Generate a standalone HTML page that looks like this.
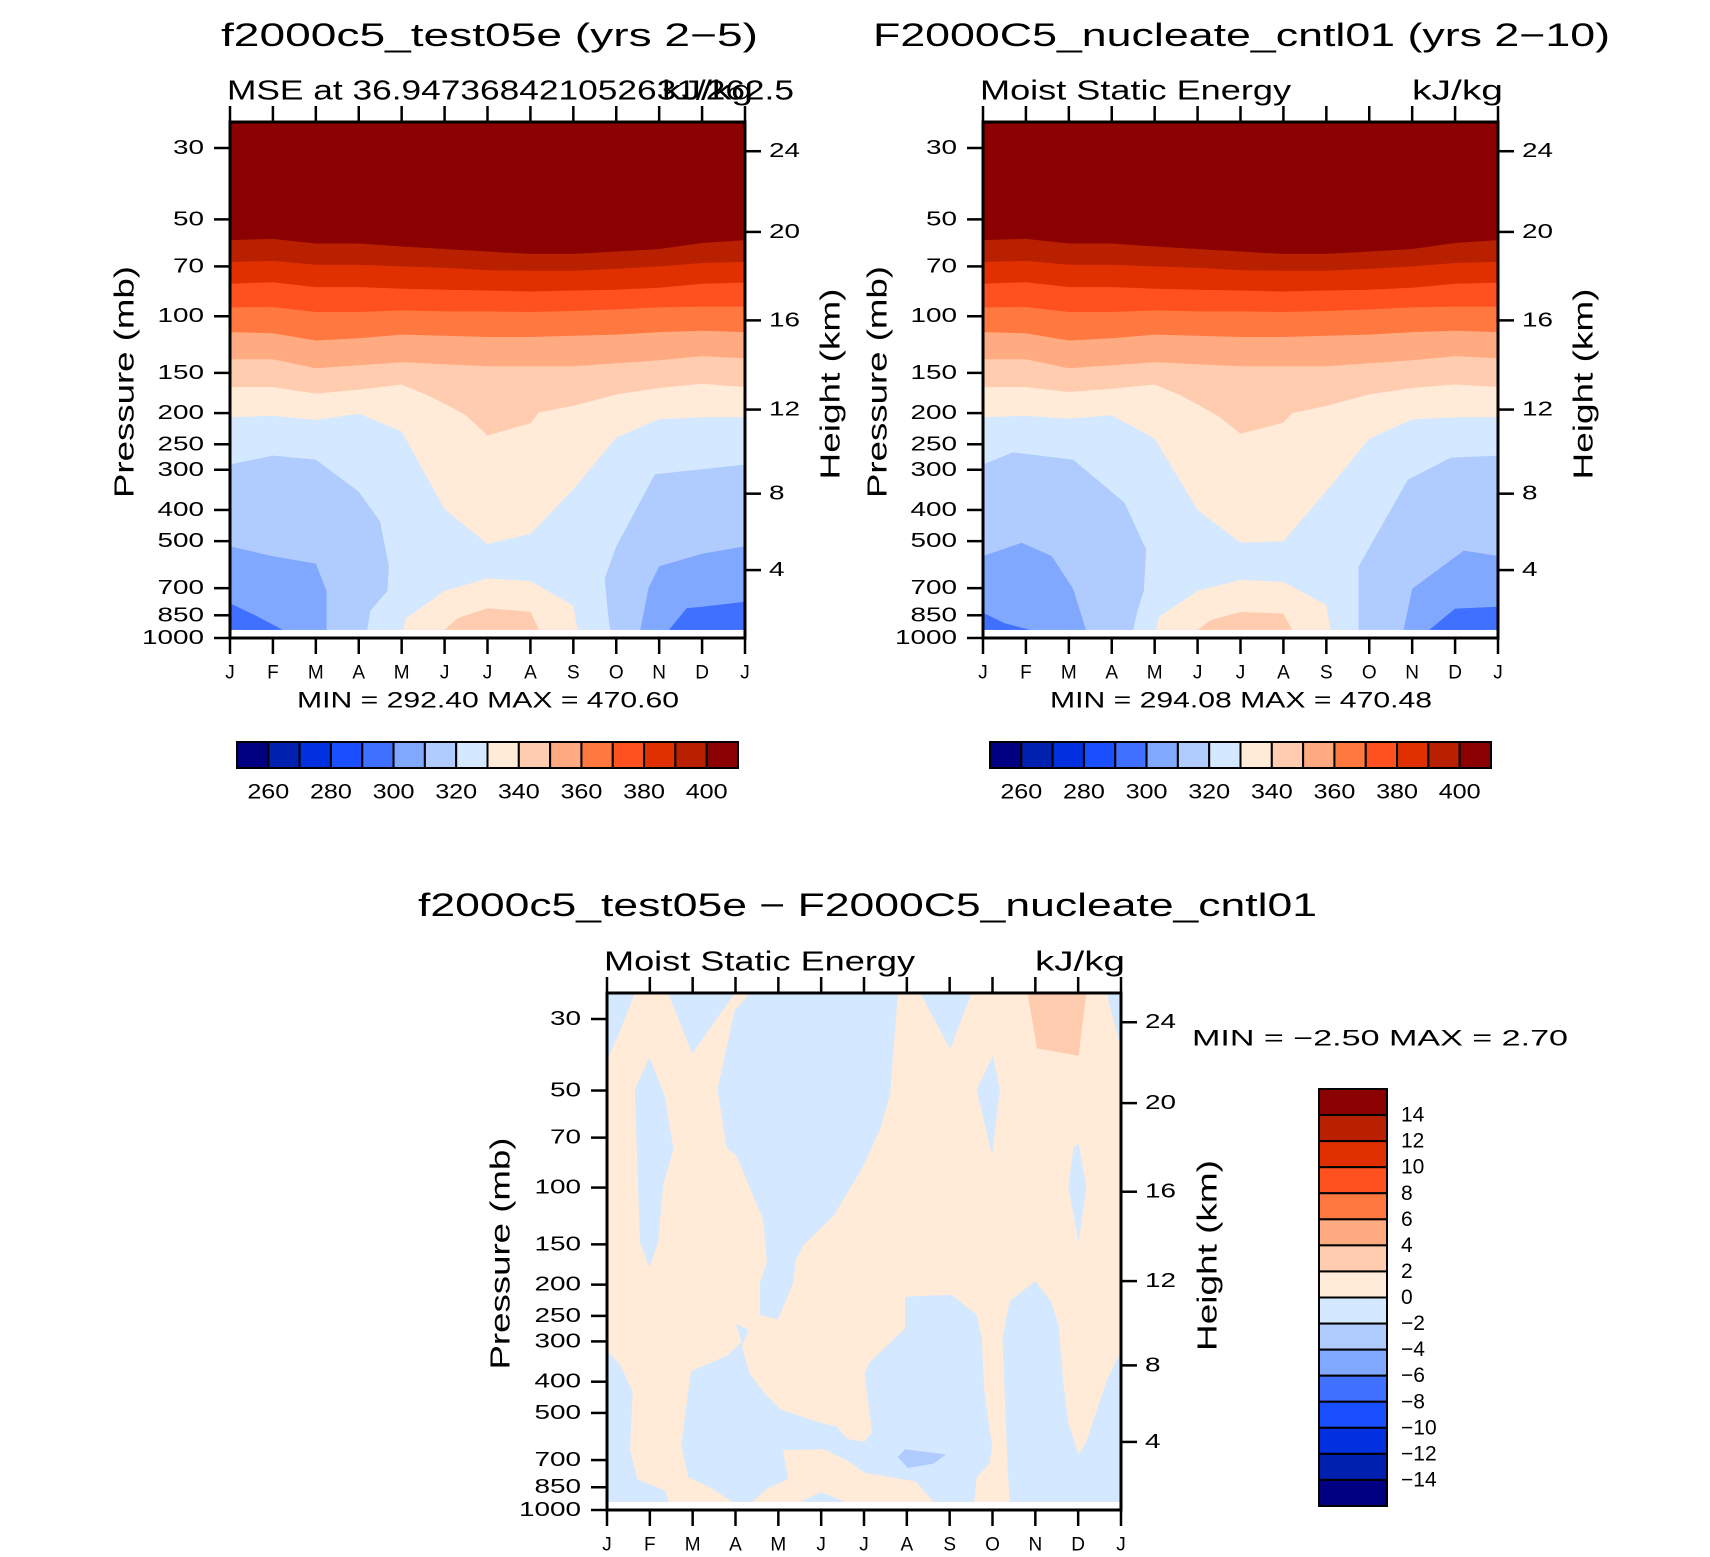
<!DOCTYPE html>
<html><head><meta charset="utf-8"><style>
html,body{margin:0;padding:0;background:#fff;}
svg{display:block;font-family:"Liberation Sans",sans-serif;}
</style></head><body>
<svg id="fig" width="1710" height="1557" viewBox="0 0 1710 1557" xmlns="http://www.w3.org/2000/svg"></svg>
<script>
// ---- shared axis data ----
const months = ["J","F","M","A","M","J","J","A","S","O","N","D","J"];
const pTicks = [30,50,70,100,150,200,250,300,400,500,700,850,1000];
const hTickLabels = [24,20,16,12,8,4];
const hTickPressures = [30.7,54.7,103,195,356,615];
const colors = ["#000080","#0020b0","#0030e0","#1a4fff","#4070ff","#80a8ff","#b0ccff","#d4e8ff","#ffebd8","#ffccb0","#ffaa80","#ff7840","#ff5020","#e03000","#b82000","#8b0000"];
const mseLabels = [260,280,300,320,340,360,380,400];
const diffLabels = [14,12,10,8,6,4,2,0,-2,-4,-6,-8,-10,-12,-14];
const dataBottom = 944;

// ---- panel 1 (test05e) contour boundaries: pressure at each month ----
const tlB1 = [58,57.5,59.4,59.4,60.7,61.8,62.9,64,64,62.9,61.8,59.2,58];
const tlB2 = [67.8,67.3,69.2,69.2,70,70.7,72,72.2,72.2,71.2,70,68.3,67.8];
const tlB3 = [79.2,78.4,81.2,81.2,82.1,82.7,83.2,83.8,83.2,82.7,81.5,79.2,78.6];
const tlB4 = [93.9,93.6,97,97,95.9,96.6,96.6,97,96.3,95.2,93.9,93.3,93.3];
const tlB5 = [112,113,119,117,114,115,116,116,115,114,112,111,112];
const tlB6 = [136,136,145,142,139,141,143,143,143,140,137,133,135];
const tlB7 = [[0,166],[1,166],[2,174],[3,169],[4,163],[4.6,176],[5,187],[5.5,203],[6,235],[7,215],[7.2,199],[8,190],[9,175],[10,167],[11,162],[12,166]];
const tlB8 = [[0,206],[1,204],[2,210],[3,201],[4,228],[5,398],[6,510],[7,475],[8,345],[9,238],[10,209],[11,206],[12,206]];
const tlMedL = [[0,289],[1,271],[2,279],[3,351],[3.5,435],[3.7,598],[3.67,714],[3.27,823],[3.2,944],[0,944]];
const tlMedR = [[8.86,944],[8.8,823],[8.73,653],[9,519],[9.9,310],[11,299],[12,289],[12,944]];
const tlBlueL = [[0,519],[1,557],[2,587],[2.25,714],[2.25,944],[0,944]];
const tlBlueR = [[9.56,944],[9.75,701],[10,598],[11,547],[12,519],[12,944]];
const tlCornerL = [[0,780],[0.6,852],[1.23,944],[0,944]];
const tlCornerR = [[10.23,944],[10.64,808],[11,800],[12,772],[12,944]];
const tlBump = [[4.03,944],[4.1,868],[5,714],[6,653],[7,665],[8,794],[8.1,944]];
const tlBump2 = [[5,944],[5.3,868],[6,808],[7,829],[7.2,944]];

// ---- panel 2 (cntl01) ----
const trB1 = [58,57.5,59.4,59.4,60.7,61.8,62.9,64,64,62.9,61.8,59.2,58];
const trB2 = [67.8,67.3,69.2,69.2,70,70.7,72,72.2,72.2,71.2,70,68.3,67.8];
const trB3 = [79.2,78.4,81.2,81.2,82.1,82.7,83.2,83.8,83.2,82.7,81.5,79.2,78.6];
const trB4 = [93.9,93.6,97,97,95.9,96.6,96.6,97,96.3,95.2,93.9,93.3,93.3];
const trB5 = [112,113,119,117,114,115,116,116,115,114,112,111,112];
const trB6 = [136,136,145,142,139,141,143,143,143,140,137,133,135];
const trB7 = [[0,166],[1,166],[2,172],[3,168],[4,163],[4.6,176],[5,188],[5.5,205],[6,232],[7,214],[7.2,200],[8,190],[9,175],[10,167],[11,163],[12,166]];
const trB8 = [[0,206],[1,204],[2,208],[3,203],[4,240],[5,400],[6,506],[7,500],[8,350],[9,240],[10,209],[11,206],[12,206]];
const trMedL = [[0,289],[0.7,265],[2.1,279],[3.3,380],[3.8,530],[3.75,714],[3.6,823],[3.5,944],[0,944]];
const trMedR = [[8.75,944],[8.75,600],[9.9,322],[10.9,275],[12,271],[12,944]];
const trBlueL = [[0,556],[0.9,506],[1.6,556],[2.1,703],[2.4,944],[0,944]];
const trBlueR = [[9.8,944],[10,703],[11.2,535],[12,556],[12,944]];
const trCornerL = [[0,835],[0.5,900],[1.1,944],[0,944]];
const trCornerR = [[10.4,944],[11,810],[12,800],[12,944]];
const trBump = [[4.03,944],[4.1,860],[5,714],[6,660],[7,670],[8,790],[8.1,944]];
const trBump2 = [[5,944],[5.3,880],[6,830],[7,840],[7.2,944]];

// ---- panel 3 (difference) ----
const dBlueTL = [[0,25],[0.65,25],[0.30,32.7],[0,40.3]];
const dBlueIsl1 = [[0.99,39.4],[1.35,52.1],[1.55,75.5],[1.31,99.2],[1.19,148],[0.99,177],[0.77,148],[0.65,49.7]];
const dBlueV1 = [[1.43,25],[2.98,25],[1.99,38.4]];
const dBlueMid = [[3.33,25],[6.79,25],[6.61,51.3],[6.37,66.4],[5.95,87.2],[5.30,122],[4.58,151],[4.40,169],[4.35,198],[3.99,256],[3.57,248],[3.57,198],[3.73,170],[3.65,126],[3.01,79.2],[2.80,75.5],[2.58,49.7],[2.98,28.3]];
const dBlueV2 = [[7.32,25],[8.51,25],[8.01,37.2]];
const dBlueIsl2 = [[9.01,39.0],[9.17,49.7],[8.99,79.2],[8.63,49.7]];
const dBlueTR = [[11.67,25],[12,25],[12,37.2]];
const dBlueIsl3 = [[11.01,73.1],[11.19,99.2],[11.01,148],[10.77,99.2],[10.89,75.5]];
const dBlueBL = [[0,321],[0.30,354],[0.60,429],[0.54,652],[0.71,803],[1.37,871],[1.43,944],[0,944]];
const dBlueCenter = [[2.92,944],[2.44,857],[1.90,791],[1.73,631],[1.96,371],[2.80,332],[3.15,301],[3.01,265],[3.31,276],[3.15,311],[3.33,377],[3.69,436],[4.05,488],[4.94,534],[5.36,551],[5.60,602],[6.01,615],[6.19,573],[6.01,377],[6.13,348],[6.96,273],[6.96,218],[8.04,215],[8.63,248],[8.75,292],[8.81,429],[8.99,631],[8.93,718],[8.63,791],[8.57,944],[7.62,944],[7.20,816],[6.01,766],[5.65,707],[5.06,648],[4.11,652],[4.23,803],[3.75,857],[3.39,944]];
const dBlueRight = [[9.40,944],[9.35,718],[9.23,292],[9.40,225],[10.0,195],[10.36,225],[10.54,265],[10.65,402],[10.77,537],[11.01,673],[11.19,615],[11.67,396],[12,321],[12,944]];
const dBlueBump = [[4.52,944],[5.0,879],[5.54,944]];
const dDarkPatch = [[6.79,684],[6.96,648],[7.92,673],[7.62,718],[7.02,741]];
const dOrangePatch = [[9.82,25],[11.19,25],[11.01,39.0],[10.04,37.0]];

const NS = "http://www.w3.org/2000/svg";
const svg = document.getElementById("fig");
function mk(tag, attrs, parent){const e=document.createElementNS(NS,tag);for(const k in attrs)e.setAttribute(k,attrs[k]);(parent||svg).appendChild(e);return e;}
function txt(s,x,y,size,anchor,parent,rot,len){const t=mk("text",{x:x,y:y,"font-size":size,"text-anchor":anchor||"middle","dominant-baseline":"central",fill:"#000"},parent);if(len){t.setAttribute("textLength",len);t.setAttribute("lengthAdjust","spacingAndGlyphs");}if(rot)t.setAttribute("transform","rotate(-90 "+x+" "+y+")");t.textContent=s;return t;}

function makePanel(g){
  const ppl = (g.yB - g.y30)/Math.log(1000/30);
  g.xs = m => g.x0 + m*(g.x1-g.x0)/12;
  g.ys = p => g.yB - ppl*Math.log(1000/p);
  const grp = mk("g",{});
  
  
  const cid = "clip-"+g.name;
  const cp = mk("clipPath",{id:cid},grp);
  mk("rect",{x:g.x0,y:g.yT,width:g.x1-g.x0,height:g.yB-g.yT},cp);
  g.fill = mk("g",{"clip-path":"url(#"+cid+")"},grp);
  g.grp = grp;
  return g;
}
function poly(g, pts, color, name){
  const s = pts.map(q => g.xs(q[0]).toFixed(1)+","+g.ys(q[1]).toFixed(1)).join(" ");
  const e = mk("polygon",{points:s,fill:color},g.fill);
  
  
}
function bandPoly(g, arr, color, name){
  const pts = arr.map((p,i)=>[i,p]);
  pts.push([12,dataBottom],[0,dataBottom]);
  poly(g, pts, color, name);
}
function linePoly(g, arr, color, name){
  const pts = arr.slice();
  pts.push([12,dataBottom],[0,dataBottom]);
  poly(g, pts, color, name);
}
function axes(g){
  const a = mk("g",{},g.grp);
  mk("rect",{x:g.x0,y:g.yT,width:g.x1-g.x0,height:g.yB-g.yT,fill:"none",stroke:"#000","stroke-width":3},a);
  pTicks.forEach(p=>{const y=g.ys(p);mk("line",{x1:g.x0-16,x2:g.x0,y1:y,y2:y,stroke:"#000","stroke-width":2.5},a);
    const s=String(p);const t=txt(s,g.x0-26,y,20,"end",a,false,s.length*15.5);});
  hTickLabels.forEach((h,i)=>{const y=g.ys(hTickPressures[i]);mk("line",{x1:g.x1,x2:g.x1+16,y1:y,y2:y,stroke:"#000","stroke-width":2.5},a);
    const s=String(h);const t=txt(s,g.x1+24,y,20,"start",a,false,s.length*15.5);});
  months.forEach((m,i)=>{const x=g.xs(i);
    mk("line",{x1:x,x2:x,y1:g.yB,y2:g.yB+16,stroke:"#000","stroke-width":2.5},a);
    mk("line",{x1:x,x2:x,y1:g.yT-16,y2:g.yT,stroke:"#000","stroke-width":2.5},a);
    const t=txt(m,x,g.yB+35,19,"middle",a);});
  const yl=txt("Pressure  (mb)",g.plx,(g.yT+g.yB)/2+2,28,"middle",a,true,232);
  
  const hl=txt("Height  (km)",g.hlx,(g.yT+g.yB)/2+4,28,"middle",a,true,191);
  
}
function hColorbar(x0,x1,y0,y1,name){
  const g=mk("g",{});
  const w=(x1-x0)/colors.length;
  colors.forEach((c,i)=>mk("rect",{x:x0+i*w,y:y0,width:w,height:y1-y0,fill:c,stroke:"#000","stroke-width":2},g));
  mseLabels.forEach((v,i)=>{const t=txt(String(v),x0+w*(1+2*i),y1+24,21,"middle",g,false,42);});
}
function drawTop(g, B){
  mk("rect",{x:g.x0,y:g.yT,width:g.x1-g.x0,height:g.ys(dataBottom)-g.yT,fill:colors[15]},g.fill);
  bandPoly(g,B.b1,colors[14],"band-390");
  bandPoly(g,B.b2,colors[13],"band-380");
  bandPoly(g,B.b3,colors[12],"band-370");
  bandPoly(g,B.b4,colors[11],"band-360");
  bandPoly(g,B.b5,colors[10],"band-350");
  bandPoly(g,B.b6,colors[9],"band-340");
  linePoly(g,B.b7,colors[8],"band-330");
  linePoly(g,B.b8,colors[7],"band-320");
  poly(g,B.medL,colors[6],"region-310-left");
  poly(g,B.medR,colors[6],"region-310-right");
  poly(g,B.blueL,colors[5],"region-300-left");
  poly(g,B.blueR,colors[5],"region-300-right");
  poly(g,B.cornerL,colors[4],"region-290-left");
  poly(g,B.cornerR,colors[4],"region-290-right");
  poly(g,B.bump,colors[8],"region-330-lower");
  poly(g,B.bump2,colors[9],"region-340-lower");
  axes(g);
}

// Panel 1
const g1 = makePanel({name:"panel-test05e",x0:230,x1:745,yT:122,yB:638,y30:148,plx:124,hlx:830});
drawTop(g1,{b1:tlB1,b2:tlB2,b3:tlB3,b4:tlB4,b5:tlB5,b6:tlB6,b7:tlB7,b8:tlB8,medL:tlMedL,medR:tlMedR,blueL:tlBlueL,blueR:tlBlueR,cornerL:tlCornerL,cornerR:tlCornerR,bump:tlBump,bump2:tlBump2});
// Panel 2
const g2 = makePanel({name:"panel-cntl01",x0:983,x1:1498,yT:122,yB:638,y30:148,plx:877,hlx:1583});
drawTop(g2,{b1:trB1,b2:trB2,b3:trB3,b4:trB4,b5:trB5,b6:trB6,b7:trB7,b8:trB8,medL:trMedL,medR:trMedR,blueL:trBlueL,blueR:trBlueR,cornerL:trCornerL,cornerR:trCornerR,bump:trBump,bump2:trBump2});
// Panel 3
const g3 = makePanel({name:"panel-difference",x0:607,x1:1121,yT:993,yB:1510,y30:1019,plx:500,hlx:1207});
mk("rect",{x:g3.x0,y:g3.yT,width:g3.x1-g3.x0,height:g3.ys(dataBottom)-g3.yT,fill:colors[8]},g3.fill);
[[dBlueTL,"tl"],[dBlueIsl1,"island1"],[dBlueV1,"v1"],[dBlueMid,"mid"],[dBlueV2,"v2"],[dBlueIsl2,"island2"],[dBlueTR,"tr"],[dBlueIsl3,"island3"],[dBlueBL,"bl"],[dBlueCenter,"center"],[dBlueRight,"right"],[dBlueBump,"bump"]].forEach(a=>poly(g3,a[0],colors[7],"negative-region-"+a[1]));
poly(g3,dDarkPatch,colors[6],"negative-region-minus2");
poly(g3,dOrangePatch,colors[9],"positive-region-plus2");
axes(g3);

// Titles & texts
function label(s,x,y,size,anchor,name,len){const t=txt(s,x,y,size,anchor,null,false,len);}
label("f2000c5_test05e (yrs 2\u22125)",221,35,32,"start","title-test05e",537);
label("MSE at 36.947368421052631/262.5",227,90,28,"start","subtitle-test05e",567);
label("kJ/kg",662,90,28,"start","units-test05e",91);
label("MIN = 292.40 MAX = 470.60",297,700,22,"start","minmax-test05e",382);
label("F2000C5_nucleate_cntl01 (yrs 2\u221210)",873,35,32,"start","title-cntl01",737);
label("Moist Static Energy",980,90,28,"start","subtitle-cntl01",311);
label("kJ/kg",1412,90,28,"start","units-cntl01",91);
label("MIN = 294.08 MAX = 470.48",1050,700,22,"start","minmax-cntl01",382);
label("f2000c5_test05e \u2212 F2000C5_nucleate_cntl01",418,905,32,"start","title-difference",899);
label("Moist Static Energy",604,961,28,"start","subtitle-difference",311);
label("kJ/kg",1035,961,28,"start","units-difference",90);
label("MIN =   \u22122.50  MAX =    2.70",1192,1038,22,"start","minmax-difference",376);

hColorbar(237,738,742,768,"colorbar-test05e");
hColorbar(990,1491,742,768,"colorbar-cntl01");
// vertical colorbar
(function(){
  const g=mk("g",{});
  const x0=1319,x1=1387,y0=1089,y1=1506,h=(y1-y0)/colors.length;
  colors.slice().reverse().forEach((c,i)=>mk("rect",{x:x0,y:y0+i*h,width:x1-x0,height:h,fill:c,stroke:"#000","stroke-width":2},g));
  diffLabels.forEach((v,i)=>{const t=txt(String(v).replace("-","\u2212"),x1+14,y0+h*(i+1),21,"start",g);});
})();
</script>
</body></html>
